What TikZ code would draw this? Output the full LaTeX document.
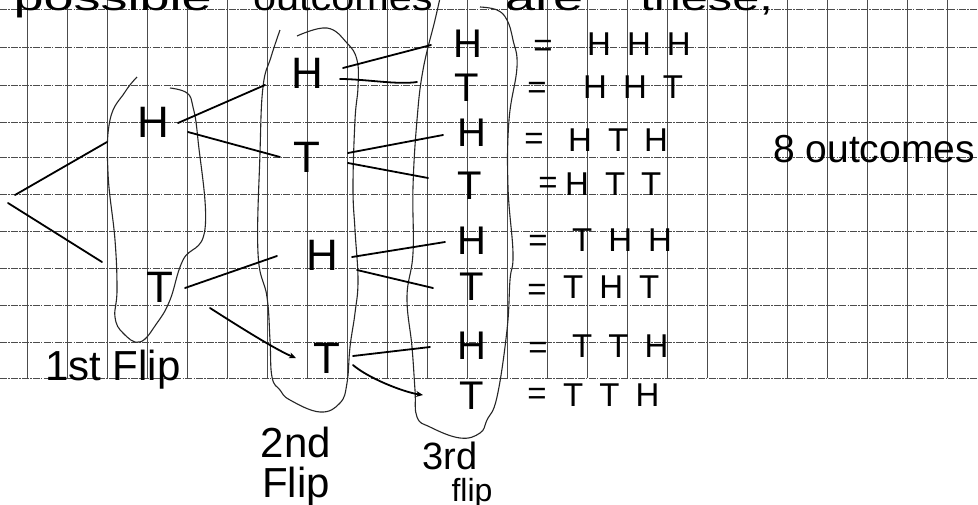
\documentclass[tikz,border=0pt]{standalone}
\usepackage{fontspec}
\setmainfont{Liberation Sans}
\usepackage{graphicx}
\usetikzlibrary{arrows.meta}
\begin{document}
\begin{tikzpicture}[x=1pt,y=-1pt,
  gridv/.style={black!70,line width=0.7pt},
  gridh/.style={black!70,line width=0.7pt,dash pattern=on 7pt off 1.2pt on 1.5pt off 1.2pt},
  loopline/.style={black!85,line width=1.1pt},
  branch/.style={black,line width=1.8pt,line cap=round},
  tipped/.style={branch,-{Stealth[length=7pt,width=6pt]}},
  letter/.style={inner sep=0pt,font=\fontsize{44}{44}\selectfont},
  letterc/.style={inner sep=0pt,font=\fontsize{40}{40}\selectfont},
  res/.style={inner sep=0pt,anchor=west,font=\fontsize{33}{33}\selectfont},
  eqsign/.style={inner sep=0pt,font=\fontsize{33}{33}\selectfont},
  flipname/.style={inner sep=0pt,anchor=base,font=\fontsize{42}{42}\selectfont},
  toptext/.style={inner sep=0pt,font=\fontsize{36}{36}\selectfont},
]
\useasboundingbox (0,0) rectangle (978,504);
\fill[white] (0,0) rectangle (978,504);
\clip (0,0) rectangle (978,504);
% grid paper
\foreach \k in {0,...,23} \draw[gridv] ({27.7+40*\k},0) -- ({27.7+40*\k},378);
\foreach \y in {9,47,85,122,157,194,231,268,305,342,378} \draw[gridh] (0,\y) -- (978,\y);

% cut-off heading
\node[toptext,anchor=base east] (w1) at (212,10) {\scalebox{1.5}[1]{possible}};
\node[toptext,anchor=base west] (w2) at (253,10) {\scalebox{1.15}[1]{outcomes}};
\node[toptext,anchor=base west] (w3) at (505,10) {\scalebox{1.5}[1]{are}};
\node[toptext,anchor=base east] (w4) at (773,10) {\scalebox{1.35}[1]{these,}};

% enclosures
\draw[loopline] plot[smooth,tension=0.7] coordinates {(137,77) (125,92) (110,120) (108,173) (115,240) (117,290) (115,317) (123,333) (140,342) (157,323) (170,300) (183,260) (205,229) (198,140) (193,107) (187,93) (170,88)};
\draw[loopline] plot[smooth,tension=0.7] coordinates {(280,30) (271,57) (263,87) (260,153) (258,253) (267,297) (270,340) (272,377) (280,390) (290,400) (320,412) (340,403) (347,383) (350,347) (355,313) (358,280) (355,230) (353,187) (355,120) (358,87) (357,60) (347,43) (327,28) (297,36)};
\draw[loopline] plot[smooth,tension=0.7] coordinates {(440,-2) (435,20) (423,70) (417,120) (413,187) (413,253) (407,297) (412,347) (415,390) (417,417) (430,427) (460,438) (480,433) (487,420) (497,397) (507,330) (510,280) (513,253) (508,187) (509,120) (517,67) (513,40) (507,20) (497,10) (480,7)};

% tree letters
\coordinate (root) at (12,198);
\node[letter] (H1) at (153,122) {H};
\node[letter] (T1) at (160,287) {T};
\node[letter] (H2a) at (307,73) {H};
\node[letter] (T2a) at (307,157) {T};
\node[letter] (H2b) at (322,255) {H};
\node[letter] (T2b) at (327,358) {T};
\node[letterc] (L1) at (468,44) {H};
\node[letterc] (L2) at (467,88) {T};
\node[letterc] (L3) at (472,133) {H};
\node[letterc] (L4) at (470,186) {T};
\node[letterc] (L5) at (472,241) {H};
\node[letterc] (L6) at (472,287) {T};
\node[letterc] (L7) at (472,346) {H};
\node[letterc] (L8) at (472,396) {T};

% branches
\draw[branch] ([shift={(3,-3)}]root) -- ([shift={(-46,20)}]H1.center);
\draw[branch] ([shift={(-4,5)}]root) -- ([shift={(-58,-25)}]T1.center);
\draw[branch] ([shift={(25,1)}]H1.center) -- ([shift={(-42,12)}]H2a.center);
\draw[branch] ([shift={(35,10)}]H1.center) -- ([shift={(-27,0)}]T2a.center);
\draw[branch] ([shift={(25,1)}]T1.center) -- ([shift={(-45,1)}]H2b.center);
\draw[tipped] ([shift={(50,21)}]T1.center) .. controls +(25,16) and +(-20,-8) .. ([shift={(-31,0)}]T2b.center);
\draw[branch] ([shift={(36,-5)}]H2a.center) -- ([shift={(-37,1)}]L1.center);
\draw[branch] ([shift={(33,6)}]H2a.center) .. controls +(25,0) and +(-20,3) .. ([shift={(-50,-6)}]L2.center);
\draw[branch] ([shift={(41,-4)}]T2a.center) -- ([shift={(-29,2)}]L3.center);
\draw[branch] ([shift={(41,6)}]T2a.center) -- ([shift={(-42,-8)}]L4.center);
\draw[branch] ([shift={(30,2)}]H2b.center) -- ([shift={(-27,1)}]L5.center);
\draw[branch] ([shift={(35,15)}]H2b.center) -- ([shift={(-39,1)}]L6.center);
\draw[branch] ([shift={(26,-2)}]T2b.center) -- ([shift={(-42,1)}]L7.center);
\draw[tipped] ([shift={(26,7)}]T2b.center) .. controls +(15,13) and +(-20,-3) .. ([shift={(-49,-1)}]L8.center);

% outcomes
\foreach \n/\ex/\ey/\lx/\ly/\t in {1/543/48/587/44/{H\hspace{16pt}H\hspace{16pt}H},
  2/537/90/583/87/{H\hspace{16pt}H\hspace{16pt}T},
  3/534/141/568/140/{H\hspace{16pt}T\hspace{16pt}H},
  4/548/185/565/184/{H\hspace{16pt}T\hspace{16pt}T},
  5/538/243/572/240/{T\hspace{16pt}H\hspace{16pt}H},
  6/537/292/563/287/{T\hspace{16pt}H\hspace{16pt}T},
  7/538/350/572/346/{T\hspace{16pt}T\hspace{16pt}H},
  8/537/396/563/395/{T\hspace{16pt}T\hspace{16pt}H}}{
  \node[eqsign] (E\n) at (\ex,\ey) {=};
  \node[res] (R\n) at (\lx,\ly) {\t};
}

% labels
\node[inner sep=0pt,anchor=base west,font=\fontsize{39}{39}\selectfont] (count) at (773,162) {8 outcomes};
\node[flipname] (f1) at (113,380) {1st Flip};
\node[flipname] (f2a) at (296,457) {2nd};
\node[flipname] (f2b) at (296,497) {Flip};
\node[flipname,font=\fontsize{38}{38}\selectfont] (f3a) at (450,469) {3rd};
\node[flipname,font=\fontsize{32}{32}\selectfont] (f3b) at (472,501) {flip};
\end{tikzpicture}
\end{document}
